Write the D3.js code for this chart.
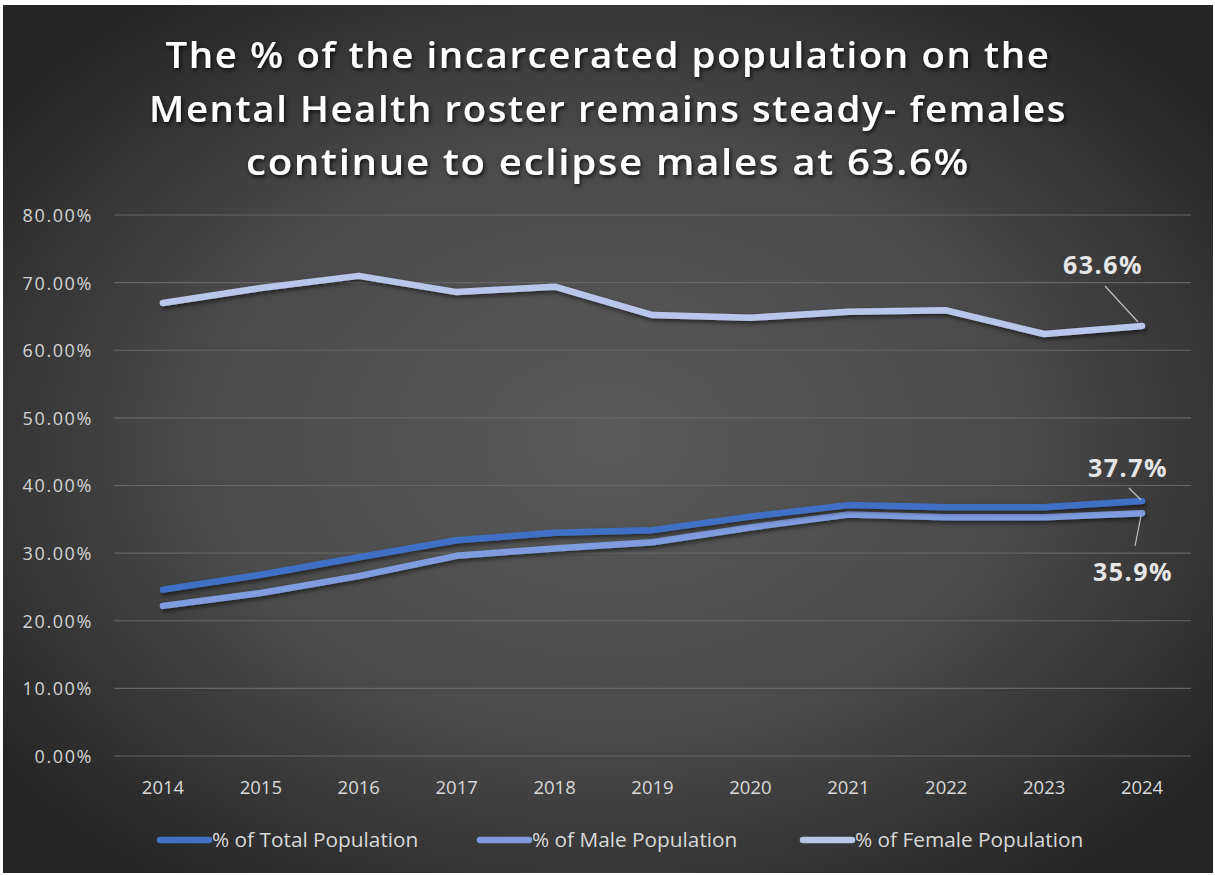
<!DOCTYPE html>
<html>
<head>
<meta charset="utf-8">
<script src="https://cdn.jsdelivr.net/npm/d3@7/dist/d3.min.js"></script>
<style>
  html, body { margin: 0; padding: 0; background: #ffffff; }
  svg { display: block; }
</style>
</head>
<body>
<svg id="chart" width="1215" height="875"></svg>
<script>
// ---- data ----
const years = ["2014","2015","2016","2017","2018","2019","2020","2021","2022","2023","2024"];
const totalPct  = [24.6, 26.8, 29.4, 31.9, 33.0, 33.4, 35.4, 37.1, 36.8, 36.8, 37.7];
const malePct   = [22.2, 24.1, 26.6, 29.6, 30.7, 31.6, 33.8, 35.7, 35.3, 35.3, 35.9];
const femalePct = [67.0, 69.2, 71.0, 68.6, 69.4, 65.2, 64.8, 65.7, 65.9, 62.4, 63.6];
const seriesNames = ["% of Total Population", "% of Male Population", "% of Female Population"];
const yTicks = [0, 10, 20, 30, 40, 50, 60, 70, 80];
const titleLines = [
  "The % of the incarcerated population on the",
  "Mental Health roster remains steady- females",
  "continue to eclipse males at 63.6%"
];
const endLabels = ["37.7%", "35.9%", "63.6%"];

// ---- setup ----
const svg = d3.select("#chart");
const W = 1215, H = 875;
const colors = ["#4170C6", "#7F9CDF", "#B9C6EB"];

const defs = svg.append("defs");
const rg = defs.append("radialGradient").attr("id", "bg")
  .attr("cx", "50%").attr("cy", "50%").attr("r", "62%");
rg.append("stop").attr("offset", "0%").attr("stop-color", "#5a5a5a");
rg.append("stop").attr("offset", "55%").attr("stop-color", "#4a4a4a");
rg.append("stop").attr("offset", "100%").attr("stop-color", "#262626");

const sh = defs.append("filter").attr("id", "shadow")
  .attr("x", "-5%").attr("y", "-20%").attr("width", "110%").attr("height", "160%");
sh.append("feDropShadow").attr("dx", 1.5).attr("dy", 2.5).attr("stdDeviation", 2)
  .attr("flood-color", "#000").attr("flood-opacity", 0.55);

const tsh = defs.append("filter").attr("id", "tshadow")
  .attr("x", "-5%").attr("y", "-30%").attr("width", "110%").attr("height", "160%");
tsh.append("feDropShadow").attr("dx", 1.5).attr("dy", 2).attr("stdDeviation", 2)
  .attr("flood-color", "#000").attr("flood-opacity", 0.8);

// background panel (thin white frame around like the source image)
svg.append("rect").attr("x", 3).attr("y", 5).attr("width", W - 5).attr("height", H - 7)
  .attr("fill", "url(#bg)");

// ---- scales ----
const x = d3.scaleBand().domain(years).range([114, 1191]).padding(0);
const cx = d => x(d) + x.bandwidth() / 2;
const y = d3.scaleLinear().domain([0, 80]).range([756, 215]);

// gridlines
svg.append("g").selectAll("line").data(yTicks).join("line")
  .attr("x1", 114).attr("x2", 1191)
  .attr("y1", d => y(d)).attr("y2", d => y(d))
  .attr("stroke", "#666666").attr("stroke-width", 1.2);

// y axis labels
const fs = "'Open Sans', sans-serif";
const yAxis = d3.axisLeft(y).tickValues(yTicks).tickSize(0).tickPadding(0)
  .tickFormat(d => d3.format(".2f")(d) + "%");
const gy = svg.append("g").attr("transform", "translate(93,0)").call(yAxis);
gy.select(".domain").remove();
gy.selectAll("text").attr("fill", "#d4d4d4")
  .style("font-family", fs).style("font-size", "18px")
  .style("letter-spacing", "1.6px").attr("dy", "0.36em");

// x axis labels
const xAxis = d3.axisBottom(x).tickSize(0).tickPadding(0);
const gx = svg.append("g").attr("transform", "translate(0,779)").call(xAxis);
gx.select(".domain").remove();
gx.selectAll("text").attr("fill", "#d9d9d9")
  .style("font-family", fs).style("font-size", "18.5px")
  .attr("dy", "0.35em").attr("y", 9);

// ---- lines ----
const seriesData = [totalPct, malePct, femalePct];
const line = d3.line().x((d, i) => cx(years[i])).y(d => y(d));
const order = [2, 1, 0];
svg.append("g").selectAll("path").data(order).join("path")
  .attr("d", k => line(seriesData[k]))
  .attr("fill", "none")
  .attr("stroke", k => colors[k])
  .attr("stroke-width", 6.5)
  .attr("stroke-linecap", "round")
  .attr("stroke-linejoin", "round")
  .attr("filter", "url(#shadow)");

// ---- end data labels with leader lines ----
const lblSpecs = [
  { k: 0, tx: 1128, ty: 467, l: [[1129, 488], [1141, 500]] },
  { k: 1, tx: 1133, ty: 571, l: [[1141, 516], [1135, 546]] },
  { k: 2, tx: 1103, ty: 264, l: [[1105, 286], [1138, 322]] }
];
lblSpecs.forEach(s => {
  svg.append("line")
    .attr("x1", s.l[0][0]).attr("y1", s.l[0][1])
    .attr("x2", s.l[1][0]).attr("y2", s.l[1][1])
    .attr("stroke", "#bfbfbf").attr("stroke-width", 1.2);
  svg.append("text").attr("x", s.tx).attr("y", s.ty)
    .attr("text-anchor", "middle").attr("dominant-baseline", "central")
    .attr("fill", "#e6e6e6")
    .style("font-family", fs).style("font-weight", "700").style("font-size", "25px")
    .style("letter-spacing", "1.5px")
    .text(endLabels[s.k]);
});

// ---- title ----
const tl = [885, 918, 724];
const tb = [68, 122, 175];
svg.append("g").attr("filter", "url(#tshadow)").selectAll("text").data(titleLines).join("text")
  .attr("x", (d, i) => 608 - tl[i] / 2).attr("y", (d, i) => tb[i])
  .attr("textLength", (d, i) => tl[i]).attr("lengthAdjust", "spacingAndGlyphs")
  .attr("fill", "#ffffff")
  .style("font-family", fs).style("font-weight", "600").style("font-size", "36px")
  .style("letter-spacing", "1.5px")
  .text(d => d);

// ---- legend ----
const legX = [157, 477, 800];
const lg = svg.append("g").selectAll("g").data([0, 1, 2]).join("g")
  .attr("transform", k => `translate(${legX[k]},840)`);
lg.append("line").attr("x1", 3).attr("x2", 52).attr("y1", 0).attr("y2", 0)
  .attr("stroke", k => colors[k]).attr("stroke-width", 6.5).attr("stroke-linecap", "round");
lg.append("text").attr("x", 55).attr("y", 0).attr("dy", "0.35em")
  .attr("fill", "#d9d9d9")
  .style("font-family", fs).style("font-size", "20.8px")
  .text(k => seriesNames[k]);
</script>
</body>
</html>
